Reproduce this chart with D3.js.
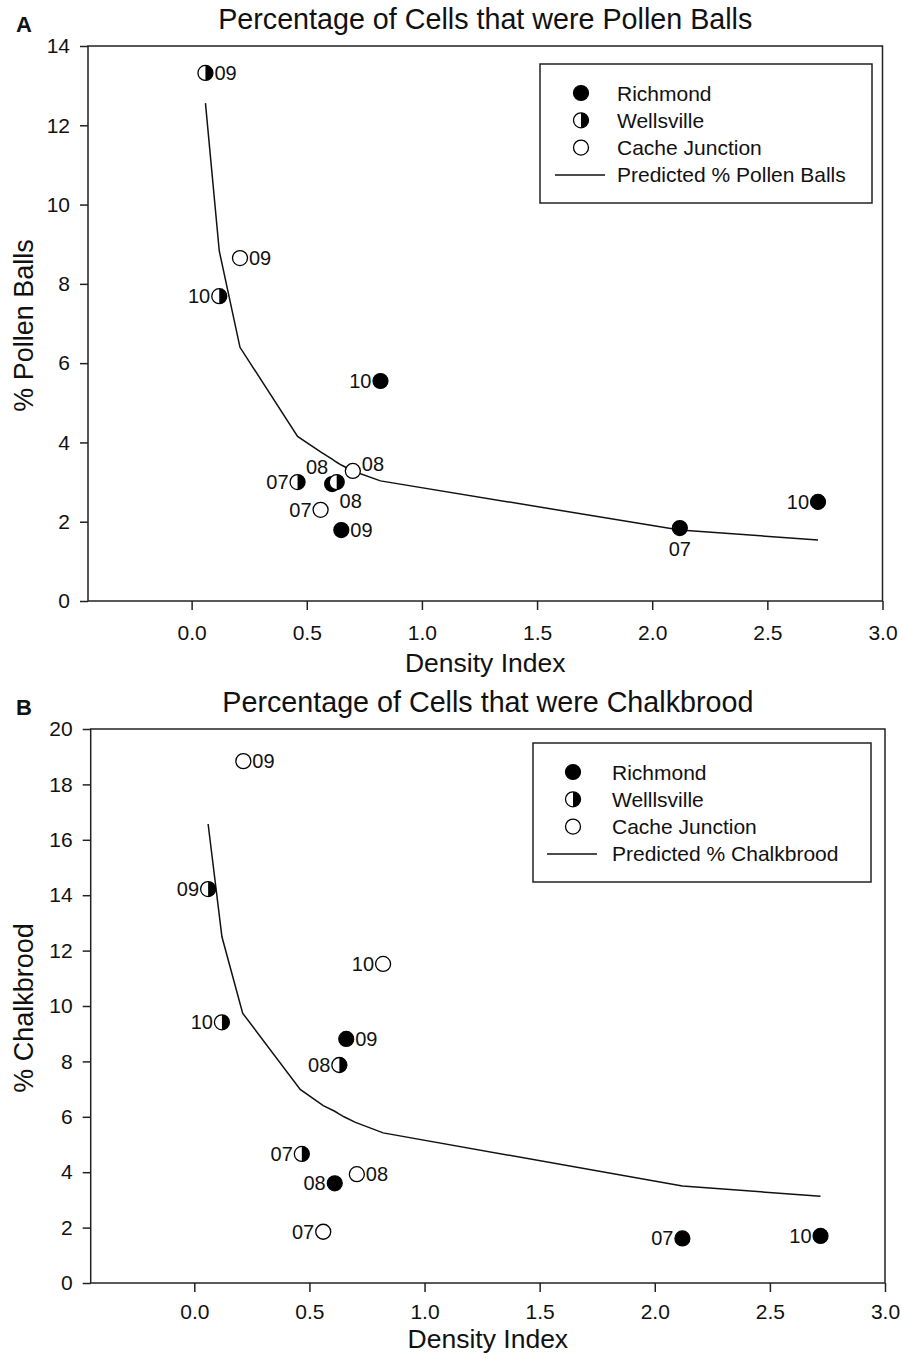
<!DOCTYPE html>
<html>
<head>
<meta charset="utf-8">
<script src="https://cdn.jsdelivr.net/npm/d3@7"></script>
<style>
  body { margin: 0; background: #fff; }
  svg text { font-family: "Liberation Sans", Arial, sans-serif; fill: #111; }
</style>
</head>
<body>
<script>
// shared
var sites = ["Richmond", "Wellsville", "Cache Junction"];
var xTicks = [0.0, 0.5, 1.0, 1.5, 2.0, 2.5, 3.0];
var predX = [0.06, 0.12, 0.21, 0.46, 0.56, 0.61, 0.63, 0.65, 0.70, 0.82, 2.12, 2.72];

// panel A: pollen balls
var pollenSite = [0, 0, 0, 0, 0, 1, 1, 1, 1, 2, 2, 2];
var pollenYear = ["07", "08", "09", "10", "10", "07", "08", "09", "10", "07", "08", "09"];
var pollenX = [2.12, 0.61, 0.65, 0.82, 2.72, 0.46, 0.63, 0.06, 0.12, 0.56, 0.70, 0.21];
var pollenY = [1.84, 2.95, 1.79, 5.55, 2.50, 3.00, 3.00, 13.32, 7.69, 2.30, 3.28, 8.65];
var pollenSide = ["b", "tl", "r", "l", "l", "l", "br", "r", "l", "l", "tr", "r"];
var pollenPred = [12.56, 8.83, 6.40, 4.15, 3.76, 3.58, 3.50, 3.43, 3.28, 3.03, 1.79, 1.54];
var pollenYTicks = [0, 2, 4, 6, 8, 10, 12, 14];

// panel B: chalkbrood
var chalkSite = [0, 0, 0, 0, 1, 1, 1, 1, 2, 2, 2, 2];
var chalkYear = ["07", "08", "09", "10", "07", "08", "09", "10", "07", "08", "09", "10"];
var chalkX = [2.12, 0.61, 0.66, 2.72, 0.467, 0.63, 0.06, 0.12, 0.56, 0.706, 0.213, 0.82];
var chalkY = [1.61, 3.60, 8.81, 1.70, 4.66, 7.87, 14.22, 9.41, 1.85, 3.93, 18.84, 11.52];
var chalkSide = ["l", "l", "r", "l", "l", "l", "l", "l", "l", "r", "r", "l"];
var chalkPred = [16.57, 12.50, 9.74, 6.99, 6.40, 6.20, 6.10, 6.00, 5.80, 5.42, 3.50, 3.13];
var chalkYTicks = [0, 2, 4, 6, 8, 10, 12, 14, 16, 18, 20];

var svg = d3.select("body").append("svg")
    .attr("width", 902)
    .attr("height", 1359);

function marker(g, site, r) {
    if (site === 0) {
        g.append("circle").attr("r", r).attr("fill", "#000").attr("stroke", "#000").attr("stroke-width", 1.2);
    } else {
        g.append("circle").attr("r", r).attr("fill", "#fff").attr("stroke", "#000").attr("stroke-width", 1.3);
        if (site === 1) {
            g.append("path")
                .attr("d", d3.arc()({innerRadius: 0, outerRadius: r, startAngle: 0, endAngle: Math.PI}))
                .attr("fill", "#000");
        }
    }
}

function drawPanel(p) {
    var x = d3.scaleLinear().domain([-0.45, 3.0]).range([p.left, p.right]);
    var y = d3.scaleLinear().domain([0, p.yMax]).range([p.bottom, p.top]);
    var cx = (p.left + p.right) / 2;

    // panel letter and title
    svg.append("text").attr("x", 16).attr("y", p.top - 14)
        .style("font-size", "22px").style("font-weight", "bold").text(p.letter);
    svg.append("text").attr("x", cx).attr("y", p.top - 17)
        .attr("text-anchor", "middle").style("font-size", "28.7px").text(p.title);

    // axes
    var xAxis = svg.append("g")
        .attr("transform", "translate(0," + p.bottom + ")")
        .call(d3.axisBottom(x).tickValues(xTicks).tickFormat(d3.format(".1f")).tickSize(9).tickPadding(p.xPad));
    var yAxis = svg.append("g")
        .attr("transform", "translate(" + p.left + ",0)")
        .call(d3.axisLeft(y).tickValues(p.yTicks).tickSize(8).tickPadding(10));
    [xAxis, yAxis].forEach(function (a) {
        a.select(".domain").remove();
        a.selectAll("line").attr("stroke", "#222").attr("stroke-width", 1.5);
        a.selectAll("text").style("font-size", "21px").attr("fill", "#111").style("font-family", "Liberation Sans, Arial, sans-serif");
    });

    // frame
    svg.append("rect")
        .attr("x", p.left).attr("y", p.top)
        .attr("width", p.right - p.left).attr("height", p.bottom - p.top)
        .attr("fill", "none").attr("stroke", "#222").attr("stroke-width", 1.5);

    // axis titles
    svg.append("text").attr("x", cx).attr("y", p.bottom + p.xTitleGap)
        .attr("text-anchor", "middle").style("font-size", "26.5px").text("Density Index");
    svg.append("text")
        .attr("transform", "translate(33," + ((p.top + p.bottom) / 2 + 2) + ") rotate(-90)")
        .attr("text-anchor", "middle").style("font-size", "27px").text(p.yTitle);

    // predicted line
    var line = d3.line().x(function (d) { return x(d[0]); }).y(function (d) { return y(d[1]); });
    svg.append("path")
        .datum(predX.map(function (v, i) { return [v, p.pred[i]]; }))
        .attr("d", line)
        .attr("fill", "none").attr("stroke", "#111").attr("stroke-width", 1.5);

    // points
    var pts = p.px.map(function (v, i) {
        return {x: v, y: p.py[i], site: p.site[i], year: p.year[i], side: p.side[i]};
    });
    pts.forEach(function (d) {
        var g = svg.append("g").attr("transform", "translate(" + x(d.x) + "," + y(d.y) + ")");
        marker(g, d.site, 7.5);
    });
    pts.forEach(function (d) {
        var px = x(d.x), py = y(d.y);
        var t = svg.append("text").style("font-size", "20px").text(d.year);
        if (d.side === "l") t.attr("x", px - 9).attr("y", py + 7).attr("text-anchor", "end");
        else if (d.side === "r") t.attr("x", px + 9).attr("y", py + 7);
        else if (d.side === "b") t.attr("x", px).attr("y", py + 28).attr("text-anchor", "middle");
        else if (d.side === "tl") t.attr("x", px - 15).attr("y", py - 10).attr("text-anchor", "middle");
        else if (d.side === "br") t.attr("x", px + 14).attr("y", py + 26).attr("text-anchor", "middle");
        else if (d.side === "tr") t.attr("x", px + 9).attr("y", py);
    });

    // legend
    var L = p.legend;
    svg.append("rect").attr("x", L.x).attr("y", L.y).attr("width", L.w).attr("height", L.h)
        .attr("fill", "#fff").attr("stroke", "#222").attr("stroke-width", 1.5);
    var rows = p.legendNames;
    rows.forEach(function (name, i) {
        var ry = L.y + 29 + i * 27.3;
        if (i < 3) {
            marker(svg.append("g").attr("transform", "translate(" + (L.x + L.sym) + "," + ry + ")"), i, 7.5);
        } else {
            svg.append("line").attr("x1", L.x + L.sym - 26).attr("x2", L.x + L.sym + 24)
                .attr("y1", ry).attr("y2", ry).attr("stroke", "#111").attr("stroke-width", 1.5);
        }
        svg.append("text").attr("x", L.x + L.txt).attr("y", ry + 7.5)
            .style("font-size", "21px").text(name);
    });
}

drawPanel({
    letter: "A", title: "Percentage of Cells that were Pollen Balls", yTitle: "% Pollen Balls",
    left: 88, right: 882.5, top: 46, bottom: 601, yMax: 14, yTicks: pollenYTicks, xTitleGap: 71, xPad: 15,
    px: pollenX, py: pollenY, site: pollenSite, year: pollenYear, side: pollenSide, pred: pollenPred,
    legend: {x: 540, y: 64, w: 332, h: 139, sym: 41, txt: 77},
    legendNames: ["Richmond", "Wellsville", "Cache Junction", "Predicted % Pollen Balls"]
});

drawPanel({
    letter: "B", title: "Percentage of Cells that were Chalkbrood", yTitle: "% Chalkbrood",
    left: 90.7, right: 885, top: 729, bottom: 1283, yMax: 20, yTicks: chalkYTicks, xTitleGap: 65, xPad: 12,
    px: chalkX, py: chalkY, site: chalkSite, year: chalkYear, side: chalkSide, pred: chalkPred,
    legend: {x: 533, y: 743, w: 338, h: 139, sym: 40, txt: 79},
    legendNames: ["Richmond", "Welllsville", "Cache Junction", "Predicted % Chalkbrood"]
});
</script>
</body>
</html>
